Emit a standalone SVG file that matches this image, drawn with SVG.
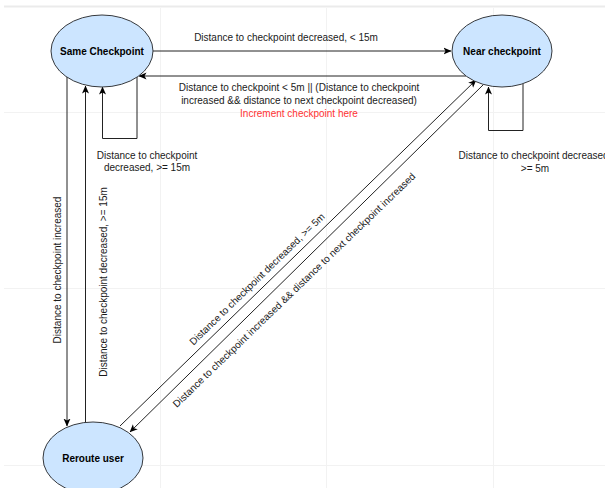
<svg xmlns="http://www.w3.org/2000/svg" width="605" height="488" viewBox="0 0 605 488">
<style>
.grid{stroke:#f2f2f2;stroke-width:1;fill:none}
.node{fill:#cce5ff;stroke:#36393d;stroke-width:1}
.nl{font-family:"Liberation Sans",Arial,sans-serif;font-size:10px;font-weight:bold;fill:#000;text-anchor:middle;dominant-baseline:central}
.edge{fill:none;stroke:#222;stroke-width:1}
.lbl{font-family:"Liberation Sans",Arial,sans-serif;font-size:10px;fill:#1a1a1a;text-anchor:middle;dominant-baseline:central}
.red{fill:#ff3333}
</style>
<defs>
<marker id="ah" viewBox="0 0 8 8" refX="7.5" refY="4" markerWidth="8" markerHeight="8" markerUnits="userSpaceOnUse" orient="auto">
<path d="M0,0.5 L8,4 L0,7.5 L2,4 z" fill="#000"/>
</marker>
</defs>
<rect width="605" height="488" fill="#fff"/>
<g id="grid">
<line x1="4" y1="6.5" x2="605" y2="6.5" stroke="#ebebeb" stroke-width="2"/>
<line class="grid" x1="160.5" y1="8" x2="160.5" y2="488"/>
<line class="grid" x1="326.5" y1="8" x2="326.5" y2="488"/>
<line class="grid" x1="493.5" y1="8" x2="493.5" y2="488"/>
<line class="grid" x1="4" y1="112.5" x2="605" y2="112.5"/>
<line class="grid" x1="4" y1="288.5" x2="605" y2="288.5"/>
<line class="grid" x1="4" y1="465.5" x2="605" y2="465.5"/>
</g>
<g id="connectors">
<line class="edge" x1="153" y1="51" x2="451" y2="51" marker-end="url(#ah)"/>
<line class="edge" x1="466" y1="76" x2="139" y2="76" marker-end="url(#ah)"/>
<polyline class="edge" points="137,77 137,138.5 102.5,138.5 102.5,87" marker-end="url(#ah)"/>
<polyline class="edge" points="523,84 523,130.5 488.5,130.5 488.5,87" marker-end="url(#ah)"/>
<line class="edge" x1="67" y1="77" x2="67" y2="426" marker-end="url(#ah)"/>
<line class="edge" x1="85.5" y1="422" x2="85.5" y2="86" marker-end="url(#ah)"/>
<line class="edge" x1="120" y1="426" x2="476" y2="80" marker-end="url(#ah)"/>
<line class="edge" x1="483" y1="85" x2="130" y2="432" marker-end="url(#ah)"/>
<text class="lbl" x="286" y="37">Distance to checkpoint decreased, &lt; 15m</text>
<text class="lbl" x="299" y="87">Distance to checkpoint &lt; 5m || (Distance to checkpoint</text>
<text class="lbl" x="299" y="100">increased &amp;&amp; distance to next checkpoint decreased)</text>
<text class="lbl red" x="299" y="113">Increment checkpoint here</text>
<text class="lbl" x="147" y="155">Distance to checkpoint</text>
<text class="lbl" x="147" y="167">decreased, &gt;= 15m</text>
<text class="lbl" x="535" y="155">Distance to checkpoint decreased,</text>
<text class="lbl" x="535" y="168">&gt;= 5m</text>
<text class="lbl" transform="translate(57,270) rotate(-90)">Distance to checkpoint increased</text>
<text class="lbl" transform="translate(103,282) rotate(-90)">Distance to checkpoint decreased, &gt;= 15m</text>
<text class="lbl" transform="translate(257,279) rotate(-44.2)">Distance to checkpoint decreased, &gt;= 5m</text>
<text class="lbl" transform="translate(294,290) rotate(-44)">Distance to checkpoint increased &amp;&amp; distance to next checkpoint increased</text>
</g>
<g id="same-checkpoint">
<ellipse class="node" cx="102" cy="51" rx="51" ry="36"/>
<text class="nl" x="102" y="51">Same Checkpoint</text>
</g>
<g id="near-checkpoint">
<ellipse class="node" cx="502" cy="51" rx="50" ry="36"/>
<text class="nl" x="502" y="51">Near checkpoint</text>
</g>
<g id="reroute-user">
<ellipse class="node" cx="93" cy="458" rx="50" ry="36"/>
<text class="nl" x="93" y="458">Reroute user</text>
</g>
</svg>
